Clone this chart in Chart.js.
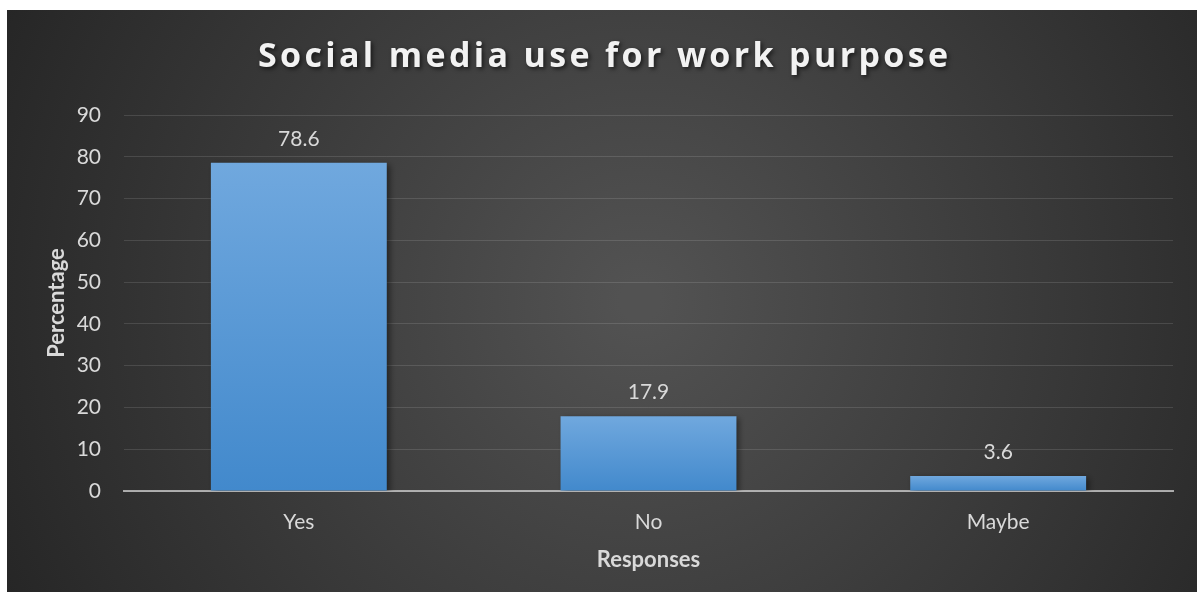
<!DOCTYPE html>
<html>
<head>
<meta charset="utf-8">
<script src="https://cdn.jsdelivr.net/npm/chart.js@4/dist/chart.umd.min.js"></script>
<style>
  html, body { margin: 0; padding: 0; background: #ffffff; }
  #wrap { width: 1197px; height: 599px; position: relative; }
</style>
</head>
<body>
<div id="wrap"><canvas id="c" width="1197" height="599"></canvas></div>
<script>
const chartTitle = 'Social media use for work purpose';
const categories = ['Yes', 'No', 'Maybe'];
const percentages = [78.6, 17.9, 3.6];
const yAxisTitle = 'Percentage';
const xAxisTitle = 'Responses';
const yMin = 0, yMax = 90, yStep = 10;

const FONT = 'Lato, Carlito, Calibri, "Open Sans", sans-serif';
const TITLE_FONT = '"Open Sans", Lato, sans-serif';

const backgroundPlugin = {
  id: 'bgBox',
  beforeDraw(chart) {
    const ctx = chart.ctx;
    const x0 = 7, y0 = 10, x1 = chart.width, y1 = 592;
    ctx.save();
    const g = ctx.createRadialGradient(640, 300, 20, 640, 300, 700);
    g.addColorStop(0, '#525252');
    g.addColorStop(1, '#262626');
    ctx.fillStyle = g;
    ctx.fillRect(x0, y0, x1 - x0, y1 - y0);
    ctx.restore();
  }
};

const titlePlugin = {
  id: 'spacedTitle',
  afterDraw(chart) {
    const ctx = chart.ctx;
    ctx.save();
    ctx.font = 'bold 34px ' + TITLE_FONT;
    ctx.letterSpacing = '0px';
    const w0 = ctx.measureText(chartTitle).width;
    const sp = Math.max(0, (690 - w0) / (chartTitle.length - 1));
    ctx.letterSpacing = sp + 'px';
    ctx.fillStyle = '#f2f2f2';
    ctx.textAlign = 'left';
    ctx.textBaseline = 'alphabetic';
    ctx.shadowColor = 'rgba(0,0,0,0.6)';
    ctx.shadowBlur = 4;
    ctx.shadowOffsetX = 2;
    ctx.shadowOffsetY = 2;
    const total = w0 + sp * (chartTitle.length - 1);
    ctx.fillText(chartTitle, 603 - total / 2, 67);
    ctx.restore();
  }
};

const barShadowPlugin = {
  id: 'barShadow',
  beforeDatasetDraw(chart) {
    const ctx = chart.ctx;
    ctx.save();
    ctx.shadowColor = 'rgba(0,0,0,0.45)';
    ctx.shadowBlur = 6;
    ctx.shadowOffsetX = 3;
    ctx.shadowOffsetY = 2;
  },
  afterDatasetDraw(chart) {
    chart.ctx.restore();
  }
};

const valueLabelPlugin = {
  id: 'valueLabels',
  afterDatasetsDraw(chart) {
    const ctx = chart.ctx;
    const meta = chart.getDatasetMeta(0);
    ctx.save();
    ctx.font = '21px ' + FONT;
    ctx.fillStyle = '#d9d9d9';
    ctx.textAlign = 'center';
    ctx.textBaseline = 'alphabetic';
    meta.data.forEach((bar, i) => {
      ctx.fillText(percentages[i].toFixed(1), bar.x, bar.y - 17);
    });
    ctx.restore();
  }
};

new Chart(document.getElementById('c'), {
  type: 'bar',
  data: {
    labels: categories,
    datasets: [{
      data: percentages,
      backgroundColor(context) {
        const chart = context.chart;
        const ys = chart.scales && chart.scales.y;
        if (!ys || context.dataIndex === undefined) return '#5b9bd5';
        const top = ys.getPixelForValue(percentages[context.dataIndex]);
        const base = ys.getPixelForValue(0);
        if (!isFinite(top) || !isFinite(base) || top === base) return '#5b9bd5';
        const g = chart.ctx.createLinearGradient(0, top, 0, base);
        g.addColorStop(0, '#70a8de');
        g.addColorStop(1, '#4289cc');
        return g;
      },
      borderWidth: 0,
      categoryPercentage: 1,
      barPercentage: 0.503
    }]
  },
  options: {
    responsive: false,
    animation: false,
    devicePixelRatio: 1,
    layout: { padding: { top: 115, left: 7, right: 24, bottom: 7 } },
    plugins: {
      legend: { display: false },
      tooltip: { enabled: false },
      title: { display: false }
    },
    scales: {
      x: {
        z: 1,
        grid: { display: false, drawTicks: false },
        border: { display: true, color: 'rgba(200,200,200,0.8)', width: 2 },
        ticks: { color: '#d9d9d9', font: { family: FONT, size: 21 }, padding: 19 },
        title: {
          display: true, text: xAxisTitle, color: '#d9d9d9',
          font: { family: FONT, size: 22, weight: 'bold' },
          padding: { top: 0, bottom: 19 }
        },
        afterFit(scale) { scale.height = 101; }
      },
      y: {
        min: yMin, max: yMax,
        grid: { color: 'rgba(255,255,255,0.12)', lineWidth: 1, drawTicks: false },
        border: { display: false },
        ticks: { stepSize: yStep, color: '#d9d9d9', font: { family: FONT, size: 21 }, padding: 23 },
        title: {
          display: true, text: yAxisTitle, color: '#d9d9d9',
          font: { family: FONT, size: 22, weight: 'bold' },
          padding: { top: 37, bottom: 0 }
        },
        afterFit(scale) { scale.width = 117; }
      }
    }
  },
  plugins: [backgroundPlugin, barShadowPlugin, valueLabelPlugin, titlePlugin]
});
</script>
</body>
</html>
